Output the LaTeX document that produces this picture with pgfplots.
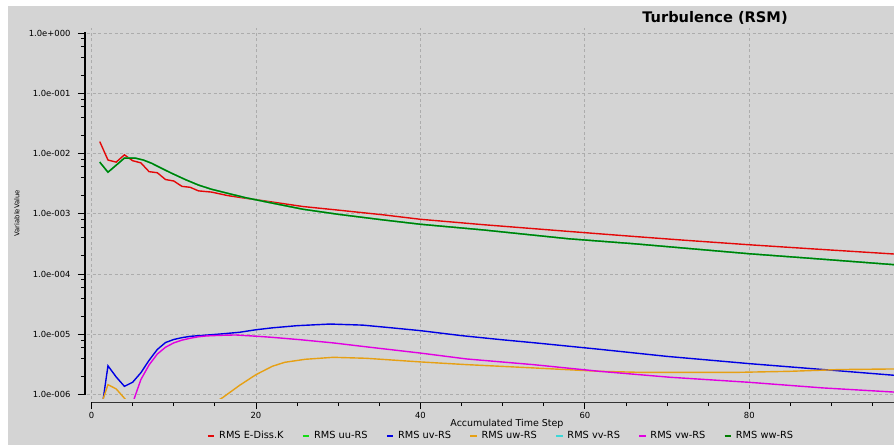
\documentclass[border=0pt]{standalone}
\usepackage{pgfplots}
\pgfplotsset{compat=1.18}
\usepackage{pgfplotstable}
\usepackage{fontspec}
\setmainfont{DejaVu Sans}

\definecolor{bggray}{RGB}{212,212,212}
\definecolor{gridgray}{RGB}{172,172,172}
\definecolor{cRed}{RGB}{228,8,8}
\definecolor{cLime}{RGB}{20,220,20}
\definecolor{cBlue}{RGB}{0,0,228}
\definecolor{cOrange}{RGB}{230,160,20}
\definecolor{cCyan}{RGB}{60,215,215}
\definecolor{cMagenta}{RGB}{225,0,225}
\definecolor{cDkGreen}{RGB}{0,125,0}

\pgfplotstableread{
x y
1 1.58e-2
2 7.8e-3
3 7.2e-3
4 9.5e-3
5 7.6e-3
6 7.0e-3
7 5.0e-3
8 4.8e-3
9 3.7e-3
10 3.5e-3
11 2.85e-3
12 2.75e-3
13 2.4e-3
14.6 2.29e-3
16.6 2.0e-3
18.6 1.82e-3
21 1.64e-3
25.7 1.32e-3
30 1.15e-3
35.5 9.6e-4
40 8.1e-4
47.6 6.6e-4
58 5.1e-4
66 4.2e-4
72 3.65e-4
80 3.06e-4
88 2.6e-4
97.6 2.15e-4
}\ediss

\pgfplotstableread{
x y
1 7.2e-3
2 4.9e-3
3 6.4e-3
4 8.4e-3
5.3 8.4e-3
6.3 7.8e-3
7.3 6.9e-3
8.5 5.7e-3
9.75 4.7e-3
11.4 3.7e-3
13 3.0e-3
14.6 2.55e-3
16.2 2.25e-3
18.65 1.86e-3
21 1.6e-3
25.7 1.19e-3
30 9.8e-4
35.5 7.9e-4
40 6.7e-4
47.6 5.4e-4
58 3.85e-4
66 3.18e-4
72 2.7e-4
80 2.17e-4
88 1.8e-4
97.6 1.43e-4
}\wwrs

\pgfplotstableread{
x y
1 3.35e-7
2 3.0e-6
3 1.96e-6
4 1.37e-6
5 1.6e-6
6 2.3e-6
7 3.7e-6
8 5.6e-6
9 7.3e-6
10 8.2e-6
11 8.8e-6
12 9.25e-6
14 9.7e-6
16 1.02e-5
18 1.08e-5
20 1.19e-5
22 1.28e-5
25 1.39e-5
29 1.48e-5
33 1.42e-5
36 1.3e-5
40 1.15e-5
45 9.5e-6
50 8.1e-6
54 7.2e-6
62 5.6e-6
70 4.3e-6
80 3.26e-6
89 2.6e-6
97.6 2.09e-6
}\uvrs

\pgfplotstableread{
x y
1 5.8e-7
2 1.46e-6
3 1.24e-6
4 8.7e-7
5 6e-7
7 3.5e-7
10 3e-7
13 5.0e-7
15 7.4e-7
16 9.0e-7
18 1.42e-6
20 2.14e-6
22 2.95e-6
23.5 3.43e-6
26 3.85e-6
29.4 4.15e-6
33.4 4.0e-6
40 3.48e-6
45.6 3.14e-6
53.7 2.77e-6
61.8 2.43e-6
66.6 2.34e-6
78.8 2.34e-6
84.9 2.43e-6
91 2.6e-6
97.6 2.66e-6
}\uwrs

\pgfplotstableread{
x y
3 2e-7
4 3.5e-7
5 7.2e-7
6 1.77e-6
7 3.1e-6
8 4.7e-6
9 6.1e-6
10 7.2e-6
11 8.0e-6
12 8.6e-6
13 9.1e-6
14 9.4e-6
15.6 9.6e-6
17.5 9.75e-6
20 9.3e-6
22 8.9e-6
25.3 8.15e-6
29.4 7.2e-6
33.4 6.2e-6
39.9 4.9e-6
45.6 3.9e-6
53.7 3.14e-6
61.8 2.43e-6
70.3 1.94e-6
79.9 1.6e-6
88.9 1.29e-6
97.6 1.1e-6
}\vwrs

\begin{document}
\begin{tikzpicture}[x=1pt,y=1pt]
\useasboundingbox (0,0) rectangle (894,445);
\fill[white] (0,0) rectangle (894,445);
\fill[bggray] (8,0) rectangle (894,439);
\begin{axis}[
  at={(87pt,46.5pt)}, anchor=south west,
  scale only axis, width=807pt, height=370.5pt,
  xmin=-0.55, xmax=97.6,
  ymode=log, ymin=8.6e-7, ymax=1.21,
  axis lines*=left,
  axis x line shift=3.5pt, axis y line shift=2pt,
  axis line style={draw=none},
  tick align=outside,
  major tick length=7pt, minor tick length=4pt,
  every tick/.style={black, line width=0.8pt},
  xtick={0,20,40,60,80}, xticklabels={0,20,40,60,80},
  minor xtick={5,10,15,25,30,35,45,50,55,65,70,75,85,90,95},
  ytick={1e-6,1e-5,1e-4,1e-3,1e-2,1e-1,1},
  yticklabels={1.0e-006,1.0e-005,1.0e-004,1.0e-003,1.0e-002,1.0e-001,1.0e+000},
  minor ytick={2e-6,4e-6,6e-6,8e-6,2e-5,4e-5,6e-5,8e-5,2e-4,4e-4,6e-4,8e-4,2e-3,4e-3,6e-3,8e-3,2e-2,4e-2,6e-2,8e-2,2e-1,4e-1,6e-1,8e-1},
  grid=major,
  major grid style={gridgray, line width=0.8pt, dash pattern=on 3pt off 2.5pt},
  ticklabel style={font=\fontsize{8.4}{10}\selectfont, text=black},
  yticklabel style={xshift=-4pt},
  xlabel={Accumulated Time Step},
  every axis x label/.style={at={(axis description cs:0.5204,-0.0688)}, anchor=center, font=\fontsize{9.5}{11}\selectfont},
  ylabel={VariableValue},
  every axis y label/.style={at={(axis description cs:-0.0870,0.5)}, anchor=center, rotate=90, font=\fontsize{6.8}{8}\selectfont},
  title={Turbulence (RSM)},
  every axis title/.style={at={(axis description cs:0.7782,1.027)}, anchor=center, font=\bfseries\fontsize{14.6}{16}\selectfont},
  legend columns=7,
  legend style={at={(axis description cs:0.1487,-0.1012)}, anchor=west, draw=none, fill=none,
    inner sep=0pt, font=\fontsize{9.8}{11}\selectfont,
    nodes={inner sep=0pt},
    /tikz/every even column/.append style={column sep=18.5pt},
    /tikz/every odd column/.append style={column sep=4pt}},
  legend image code/.code={\draw[#1, line width=1.5pt] (0pt,0pt) -- (6.5pt,0pt);},
  every axis plot/.append style={line width=1.4pt},
  clip=true,
]
\addplot[cRed] table {\ediss};
\addlegendentry{RMS E-Diss.K}
\addplot[cLime] table {\wwrs};
\addlegendentry{RMS uu-RS}
\addplot[cBlue] table {\uvrs};
\addlegendentry{RMS uv-RS}
\addplot[cOrange] table {\uwrs};
\addlegendentry{RMS uw-RS}
\addplot[cCyan] table {\wwrs};
\addlegendentry{RMS vv-RS}
\addplot[cMagenta] table {\vwrs};
\addlegendentry{RMS vw-RS}
\addplot[cDkGreen] table {\wwrs};
\addlegendentry{RMS ww-RS}
\end{axis}
\draw[black, line width=1.3pt] (85,50) -- (85,413);
\draw[black!80, line width=1pt] (92,43) -- (894,43);
\end{tikzpicture}
\end{document}
